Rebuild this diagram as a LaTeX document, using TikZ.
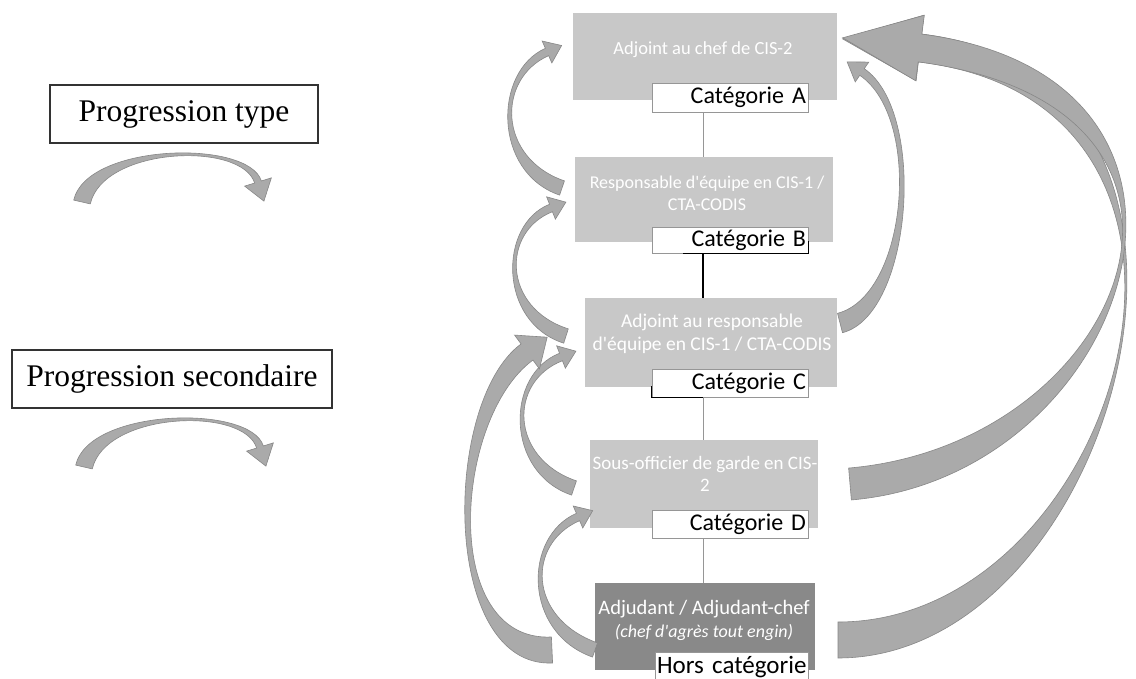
\documentclass[tikz,border=0pt]{standalone}
\usepackage{fontspec}
\setmainfont{Liberation Serif}
\newfontfamily\carl{Carlito}
\usetikzlibrary{calc}
\definecolor{boxgray}{RGB}{200,200,200}
\definecolor{boxdark}{RGB}{137,137,137}
\definecolor{arrowgray}{RGB}{170,170,170}
\definecolor{arrowedge}{RGB}{135,135,135}
\definecolor{linegray}{RGB}{150,150,150}
\definecolor{labelborder}{RGB}{150,150,150}
\tikzset{
  graybox/.style={draw=none, fill=boxgray, inner sep=0pt},
  darkbox/.style={draw=none, fill=boxdark, inner sep=0pt},
  boxtext/.style={text=white, align=center, inner sep=0pt},
  catlabel/.style={draw=labelborder, fill=white, line width=0.8pt, text width=152pt, inner xsep=2pt, inner ysep=0pt, align=right, font=\carl\fontsize{24}{26}\selectfont, text=black},
  legbox/.style={draw=black!80, line width=1.2pt, fill=white, font=\fontsize{31.5}{36}\selectfont, inner sep=0pt},
  arrowfill/.style={fill=arrowgray, draw=arrowedge, line width=0.6pt},
  tree/.style={draw=linegray, line width=1pt},
}
\newcommand{\swoosh}[8]{%
  \coordinate (sT) at #1;
  \coordinate (sA) at #2;
  \coordinate (sB) at #3;
  \coordinate (sN) at #4;
  \coordinate (sTo) at ($(sT)!#5!90:(sA)$);
  \coordinate (sTi) at ($(sT)!#5!-90:(sA)$);
  \coordinate (sNo) at ($(sN)!#6!-90:(sB)$);
  \coordinate (sNi) at ($(sN)!#6!90:(sB)$);
  \coordinate (sHo) at ($(sN)!#7!-90:(sB)$);
  \coordinate (sHi) at ($(sN)!#7!90:(sB)$);
  \coordinate (sP) at ($(sN)!#8!180:(sB)$);
  \filldraw[arrowfill] (sTo) .. controls ($(sA)+(sTo)-(sT)$) and ($(sB)+(sNo)-(sN)$) .. (sNo)
     -- (sHo) -- (sP) -- (sHi) -- (sNi)
     .. controls ($(sB)+(sNi)-(sN)$) and ($(sA)+(sTi)-(sT)$) .. (sTi) -- cycle;
}
\begin{document}
\begin{tikzpicture}[x=1pt,y=-1pt]
\useasboundingbox (0,0) rectangle (1136,679);
\fill[white] (0,0) rectangle (1136,679);

% legend
\node[legbox, minimum width=268pt, minimum height=58pt] (legT) at (184,114) {Progression type};
\node[legbox, minimum width=320pt, minimum height=58pt] (legS) at (172,379) {Progression secondaire};

% boxes
\node[graybox, minimum width=264pt, minimum height=87pt] (boxA) at (705,56.5) {};
\node[graybox, minimum width=258pt, minimum height=85pt] (boxB) at (704,199.5) {};
\node[graybox, minimum width=252pt, minimum height=89pt] (boxC) at (711,342.5) {};
\node[graybox, minimum width=228pt, minimum height=88pt] (boxD) at (704,484) {};
\node[darkbox, minimum width=220pt, minimum height=87pt] (boxE) at (705,626.5) {};

\node[boxtext, font=\carl\fontsize{18.5}{22}\selectfont] (tA) at ($(boxA.center)+(-2,-7)$) {Adjoint au chef de CIS-2};
\node[boxtext, font=\carl\fontsize{18}{22}\selectfont] (tB) at ($(boxB.center)+(3,-6)$) {Responsable d'équipe en CIS-1 /\\CTA-CODIS};
\node[boxtext, font=\carl\fontsize{19.5}{23}\selectfont] (tC) at ($(boxC.center)+(1,-9)$) {Adjoint au responsable\\d'équipe en CIS-1 / CTA-CODIS};
\node[boxtext, font=\carl\fontsize{19}{22}\selectfont] (tD) at ($(boxD.center)+(1,-10)$) {Sous-officier de garde en CIS-\\2};
\node[boxtext, font=\carl\fontsize{20.5}{23}\selectfont] (tE) at ($(boxE.center)+(-1,-6)$) {Adjudant / Adjudant-chef\\{\fontsize{18}{20}\selectfont\itshape (chef d'agrès tout engin)}};

% category labels
\node[catlabel, minimum height=29pt] (labA) at (730,97.5) {\mbox{Catégorie A}};
\node[catlabel, minimum height=26pt] (labB) at (730,240) {\mbox{Catégorie B}};
\node[catlabel, minimum height=28pt] (labC) at (730,383) {\mbox{Catégorie C}};
\node[catlabel, minimum height=28pt] (labD) at (730,524) {\mbox{Catégorie D}};
\node[catlabel, text width=149pt, minimum height=30pt, font=\carl\fontsize{25}{28}\selectfont] (labE) at (731.5,667) {\mbox{Hors catégorie}};

% dark scan marks on labels B and C
\draw[black, line width=1.2pt] (labB.south west -| 683,0) -- (labB.south east) -- ++(0,-12);
\draw[black, line width=1.2pt] ($(labC.south west)+(0,-11)$) -- (labC.south west) -- (labC.south -| 703,0);

% tree connectors
\coordinate (axis) at (703,0);
\draw[tree] (labA.south -| axis) -- (boxB.north -| axis);
\draw[tree, draw=black, line width=1.4pt] (labB.south -| axis) -- (boxC.north -| axis);
\draw[tree] (labC.south -| axis) -- (boxD.north -| axis);
\draw[tree] (labD.south -| axis) -- (boxE.north -| axis);

% legend arrows
\swoosh{(82,202)}{(95,145)}{(245,140)}{(258,182)}{8.5pt}{3.5pt}{14pt}{20pt}
\swoosh{(84,467)}{(97,410)}{(247,405)}{(260,447)}{8.5pt}{3.5pt}{14pt}{20pt}

% left progression arrows
\swoosh{(562,188)}{(495,165)}{(495,75)}{(547,52)}{7.5pt}{4pt}{12pt}{16pt}
\swoosh{(566,336)}{(500,315)}{(500,228)}{(551,208)}{7.5pt}{4pt}{12pt}{16pt}
\swoosh{(574,488)}{(507,465)}{(507,378)}{(561,357)}{7.5pt}{4pt}{12pt}{16pt}
\swoosh{(595,650)}{(525,625)}{(525,540)}{(578,517)}{7.5pt}{4pt}{12pt}{16pt}
% big left secondary arrow
\swoosh{(552,650)}{(440,655)}{(448,410)}{(527,352)}{13pt}{10pt}{21pt}{25pt}

% right arrows
\swoosh{(840,323)}{(910,305)}{(925,115)}{(862,72)}{10pt}{4pt}{12pt}{18pt}
\swoosh{(838,640)}{(1120,640)}{(1275,90)}{(920,48)}{18pt}{14pt}{33pt}{78pt}
\swoosh{(850,484)}{(1130,460)}{(1262,93)}{(920,48)}{16pt}{14pt}{33pt}{78pt}
\end{tikzpicture}
\end{document}
